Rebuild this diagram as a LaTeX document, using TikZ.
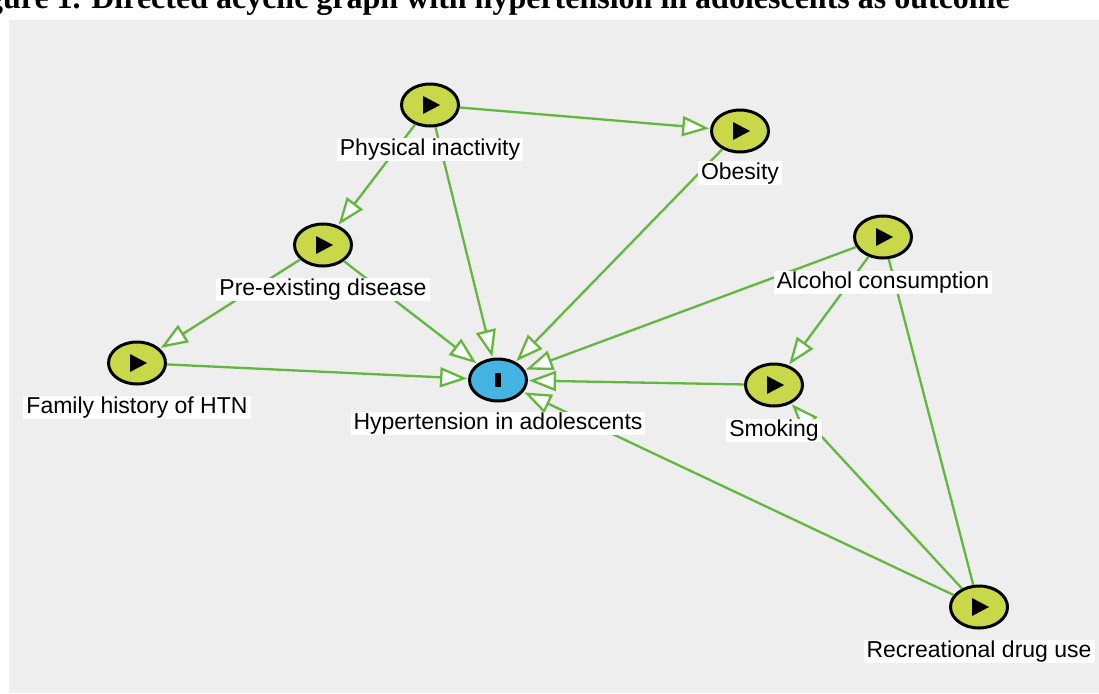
\documentclass[tikz,border=0pt]{standalone}
\usepackage{fontspec}
\setmainfont{Liberation Sans}
\newfontfamily\titlefont{Liberation Serif}
\usetikzlibrary{arrows.meta,shapes.geometric}
\definecolor{panel}{RGB}{238,238,238}
\definecolor{nodegreen}{RGB}{200,216,72}
\definecolor{nodeblue}{RGB}{68,180,226}
\definecolor{edgegreen}{RGB}{98,184,60}
\begin{document}
\begin{tikzpicture}[x=1pt,y=-1pt,
  var/.style={draw=black, line width=3pt, ellipse, fill=nodegreen, minimum width=57pt, minimum height=42pt, inner sep=0pt},
  outc/.style={var, fill=nodeblue},
  lbl/.style={fill=white, inner xsep=3pt, inner ysep=1pt, text height=17pt, text depth=4.5pt, font=\fontsize{23}{27}\selectfont},
  edge/.style={draw=edgegreen, line width=2.3pt, shorten >=1pt, -{Triangle[length=27pt, width=20pt, fill=white]}},
  plainedge/.style={draw=edgegreen, line width=2.3pt}
]
\useasboundingbox (0,0) rectangle (1099,693);
\fill[white] (0,0) rectangle (1099,693);
\fill[panel] (9,20) rectangle (1099,693);
\node[anchor=base east, font=\titlefont\bfseries\fontsize{32}{36}\selectfont, inner sep=0pt] (title) at (1010,9) {Figure 1. Directed acyclic graph with hypertension in adolescents as outcome};

\node[var] (pi) at (430,105) {};
\node[var] (ob) at (740,131) {};
\node[var] (pd) at (323,245) {};
\node[var] (ac) at (883,237) {};
\node[var] (fh) at (137,363) {};
\node[outc] (ht) at (498,380) {};
\node[var] (sm) at (774,385) {};
\node[var] (rd) at (979,607) {};

\foreach \n in {pi,ob,pd,ac,fh,sm,rd}
  \fill ([shift={(-7,-9)}]\n.center) -- ++(0,18) -- ++(17,-9) -- cycle;
\fill ([shift={(-3,-7)}]ht.center) rectangle ++(6,14);

\draw[edge] (pi) -- (ob);
\draw[edge] (pi) -- (pd);
\draw[edge] (pi) -- (ht);
\draw[edge] (ob) -- (ht);
\draw[edge] (pd) -- (fh);
\draw[edge] (pd) -- (ht);
\draw[edge] (fh) -- (ht);
\draw[edge] (ac) -- (ht);
\draw[edge] (ac) -- (sm);
\draw[plainedge] (ac) -- (rd);
\draw[edge] (sm) -- (ht);
\draw[edge] (rd) -- (sm);
\draw[edge] (rd) -- (ht);

\node[lbl] (lpi) at (430,149.5) {Physical inactivity};
\node[lbl] (lob) at (740,173) {Obesity};
\node[lbl] (lpd) at (323,289.5) {Pre-existing disease};
\node[lbl] (lac) at (883,282.5) {Alcohol consumption};
\node[lbl] (lfh) at (137,407.5) {Family history of HTN};
\node[lbl] (lht) at (498,423.5) {Hypertension in adolescents};
\node[lbl] (lsm) at (774,430.5) {Smoking};
\node[lbl] (lrd) at (979,651.5) {Recreational drug use};
\end{tikzpicture}
\end{document}
